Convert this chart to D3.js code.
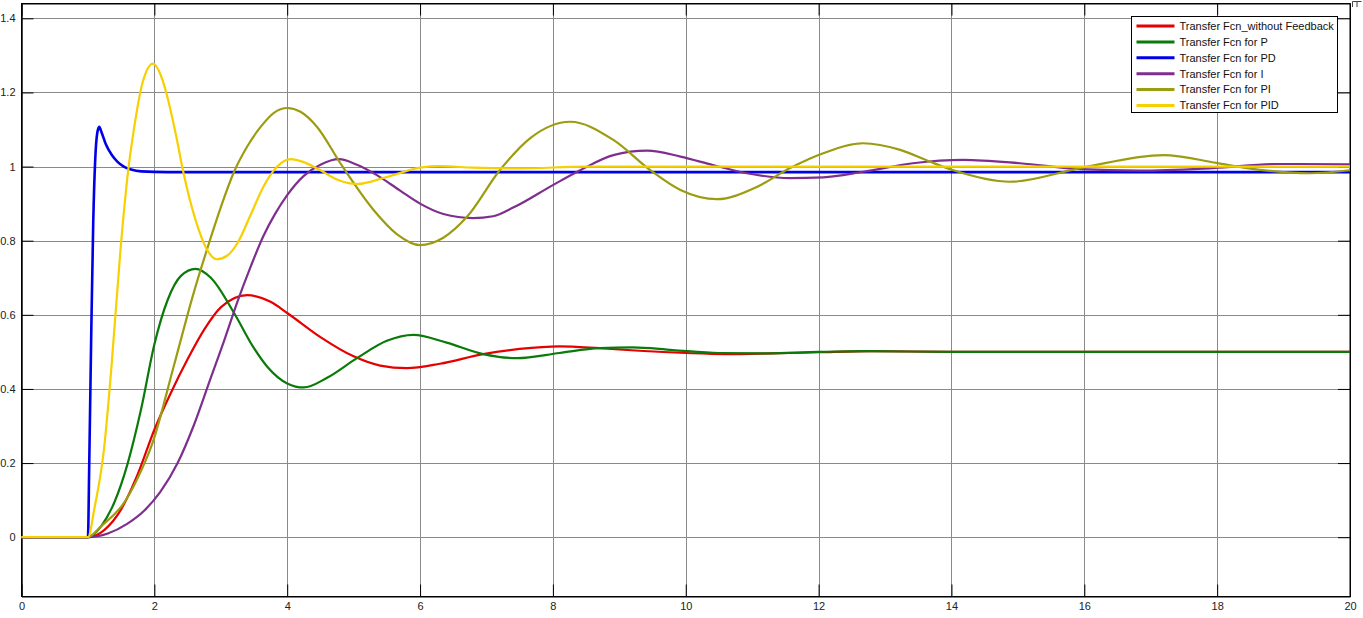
<!DOCTYPE html>
<html>
<head>
<meta charset="utf-8">
<script src="https://cdn.jsdelivr.net/npm/d3@7"></script>
<style>
  body { margin: 0; background: #fff; }
  svg { display: block; font-family: "Liberation Sans", Arial, sans-serif; }
</style>
</head>
<body>
<svg id="chart" width="1363" height="618"></svg>
<script>
const width = 1363
const height = 618

// step responses, [time, value]
const noFeedback = [[0,0],[1,0],[1.25,0.02],[1.5,0.075],[1.75,0.17],[2,0.29],[2.25,0.39],[2.5,0.48],[2.75,0.56],[3,0.62],[3.4,0.653],[3.75,0.635],[4,0.605],[4.5,0.54],[5,0.488],[5.4,0.463],[5.8,0.456],[6.3,0.468],[6.95,0.494],[7.5,0.508],[8.1,0.515],[8.7,0.51],[9.3,0.503],[10,0.497],[10.6,0.494],[11.3,0.496],[12,0.499],[12.8,0.502],[14,0.5],[16,0.5],[20,0.5]]
const pCtrl = [[0,0],[1,0],[1.2,0.03],[1.4,0.095],[1.6,0.2],[1.8,0.345],[2,0.52],[2.2,0.64],[2.4,0.705],[2.62,0.724],[2.85,0.7],[3.2,0.605],[3.5,0.51],[3.7,0.46],[4,0.415],[4.25,0.404],[4.6,0.43],[5.05,0.483],[5.5,0.53],[5.9,0.546],[6.4,0.525],[6.95,0.494],[7.46,0.483],[8.1,0.497],[8.7,0.51],[9.2,0.512],[9.8,0.505],[10.5,0.497],[11.2,0.496],[12,0.5],[12.7,0.502],[14,0.5],[20,0.5]]
const pdCtrl = [[0,0],[1,0],[1.02,0.2],[1.05,0.55],[1.08,0.85],[1.11,1.02],[1.14,1.09],[1.17,1.107],[1.21,1.09],[1.27,1.06],[1.36,1.031],[1.45,1.012],[1.54,1],[1.65,0.992],[1.8,0.987],[2.2,0.985],[20,0.985]]
const iCtrl = [[0,0],[1,0],[1.3,0.01],[1.59,0.036],[1.85,0.072],[2.09,0.122],[2.35,0.2],[2.59,0.3],[2.84,0.425],[3.06,0.535],[3.25,0.635],[3.45,0.73],[3.64,0.812],[3.82,0.873],[4,0.923],[4.25,0.975],[4.5,1.005],[4.78,1.02],[5.05,1.005],[5.35,0.977],[5.7,0.935],[6,0.9],[6.35,0.872],[6.8,0.861],[7.1,0.866],[7.41,0.89],[8,0.95],[8.41,0.99],[8.91,1.031],[9.42,1.043],[9.92,1.027],[10.41,1.004],[10.92,0.982],[11.57,0.969],[12.07,0.971],[12.67,0.986],[13.42,1.009],[14.18,1.018],[15.03,1.009],[15.94,0.993],[16.84,0.989],[17.94,0.996],[18.95,1.007],[20,1.006]]
const piCtrl = [[0,0],[1,0],[1.2,0.03],[1.54,0.092],[1.75,0.16],[1.97,0.253],[2.29,0.46],[2.59,0.658],[2.79,0.775],[3,0.89],[3.19,0.982],[3.4,1.055],[3.6,1.107],[3.8,1.145],[4,1.158],[4.2,1.148],[4.45,1.107],[4.8,1.009],[5.3,0.883],[5.65,0.818],[6,0.788],[6.35,0.808],[6.71,0.865],[7.2,0.99],[7.66,1.077],[8.26,1.121],[8.91,1.072],[9.47,0.99],[9.92,0.937],[10.47,0.912],[11.07,0.945],[11.57,0.996],[12.07,1.036],[12.67,1.063],[13.23,1.045],[13.68,1.013],[14.03,0.99],[14.88,0.959],[15.94,0.996],[17.19,1.031],[17.99,1.01],[18.45,0.996],[19.4,0.982],[20,0.99]]
const pidCtrl = [[0,0],[1,0],[1.1,0.08],[1.24,0.235],[1.35,0.45],[1.49,0.775],[1.6,0.98],[1.7,1.11],[1.82,1.225],[1.98,1.278],[2.1,1.245],[2.2,1.185],[2.32,1.09],[2.44,0.982],[2.62,0.856],[2.78,0.78],[2.94,0.75],[3.1,0.76],[3.25,0.793],[3.45,0.87],[3.64,0.945],[3.85,1],[4.05,1.02],[4.25,1.012],[4.5,0.99],[4.75,0.965],[5.05,0.953],[5.5,0.972],[6,0.997],[6.3,1.001],[6.8,0.997],[7.5,0.995],[8.5,1],[20,1]]

const seriesNames = ["Transfer Fcn_without Feedback","Transfer Fcn for P","Transfer Fcn for PD","Transfer Fcn for I","Transfer Fcn for PI","Transfer Fcn for PID"]
const seriesColors = ["#e60000","#0a7a0a","#0000e6","#7e2f8e","#9c9c10","#f7d000"]
const seriesData = [noFeedback, pCtrl, pdCtrl, iCtrl, piCtrl, pidCtrl]

const xTicks = d3.range(0, 21, 2)
const yTicks = [0, 0.2, 0.4, 0.6, 0.8, 1, 1.2, 1.4]

const margin = {left: 21.5, right: 13, top: 3.5, bottom: 21.5}

const x = d3.scaleLinear()
  .domain([0, 20])
  .range([margin.left, width - margin.right])

const y = d3.scaleLinear()
  .domain([-0.16, 1.44])
  .range([height - margin.bottom, margin.top])

const svg = d3.select("#chart")

/* grid */

svg.append("g")
  .selectAll("line")
  .data(xTicks)
  .join("line")
  .attr("x1", d => Math.round(x(d)) + 0.5)
  .attr("x2", d => Math.round(x(d)) + 0.5)
  .attr("y1", y.range()[1])
  .attr("y2", y.range()[0])
  .attr("stroke", "#8a8a8a")

svg.append("g")
  .selectAll("line")
  .data(yTicks)
  .join("line")
  .attr("x1", x.range()[0])
  .attr("x2", x.range()[1])
  .attr("y1", d => Math.round(y(d)) + 0.5)
  .attr("y2", d => Math.round(y(d)) + 0.5)
  .attr("stroke", "#8a8a8a")

/* axes with inward ticks on all sides */

const tickLen = 12
const fmt = d => String(+d.toFixed(1))

svg.append("g")
  .attr("transform", `translate(0,${y.range()[0]})`)
  .call(d3.axisBottom(x).tickValues(xTicks).tickSizeInner(-tickLen).tickSizeOuter(0).tickPadding(6).tickFormat(fmt))

svg.append("g")
  .attr("transform", `translate(0,${y.range()[1]})`)
  .call(d3.axisTop(x).tickValues(xTicks).tickSizeInner(-tickLen).tickSizeOuter(0).tickFormat(""))

svg.append("g")
  .attr("transform", `translate(${x.range()[0]},0)`)
  .call(d3.axisLeft(y).tickValues(yTicks).tickSizeInner(-tickLen).tickSizeOuter(0).tickPadding(6).tickFormat(fmt))

svg.append("g")
  .attr("transform", `translate(${x.range()[1]},0)`)
  .call(d3.axisRight(y).tickValues(yTicks).tickSizeInner(-tickLen).tickSizeOuter(0).tickFormat(""))

svg.selectAll(".domain").attr("stroke", "#000")
svg.selectAll(".tick line").attr("stroke", "#000")
svg.selectAll(".tick text").attr("fill", "#222").style("font-size", "11px")

/* box */

svg.append("rect")
  .attr("x", x.range()[0])
  .attr("y", y.range()[1])
  .attr("width", x.range()[1] - x.range()[0])
  .attr("height", y.range()[0] - y.range()[1])
  .attr("fill", "none")
  .attr("stroke", "#000")

/* curves */

const line = d3.line()
  .x(d => x(d[0]))
  .y(d => y(d[1]))
  .curve(d3.curveMonotoneX)

svg.append("g")
  .selectAll("path")
  .data(seriesData)
  .join("path")
  .attr("d", line)
  .attr("fill", "none")
  .attr("stroke", (d, i) => seriesColors[i])
  .attr("stroke-width", (d, i) => i === 2 ? 2.6 : 2.2)

/* legend */

const legend = svg.append("g").attr("transform", "translate(1131.5,16.5)")

legend.append("rect")
  .attr("width", 206)
  .attr("height", 96)
  .attr("fill", "#fff")
  .attr("stroke", "#000")

const rows = legend.selectAll("g")
  .data(seriesNames)
  .join("g")
  .attr("transform", (d, i) => `translate(0,${9.5 + i * 15.9})`)

rows.append("line")
  .attr("x1", 5)
  .attr("x2", 43)
  .attr("stroke", (d, i) => seriesColors[i])
  .attr("stroke-width", 3)

rows.append("text")
  .attr("x", 48)
  .attr("dy", "0.35em")
  .style("font-size", "11px")
  .attr("fill", "#111")
  .text(d => d)

/* small scope marker top right */

svg.append("path")
  .attr("d", "M1352.5,7V1.5H1361.5M1357,1.5V7")
  .attr("fill", "none")
  .attr("stroke", "#444")
</script>
</body>
</html>
